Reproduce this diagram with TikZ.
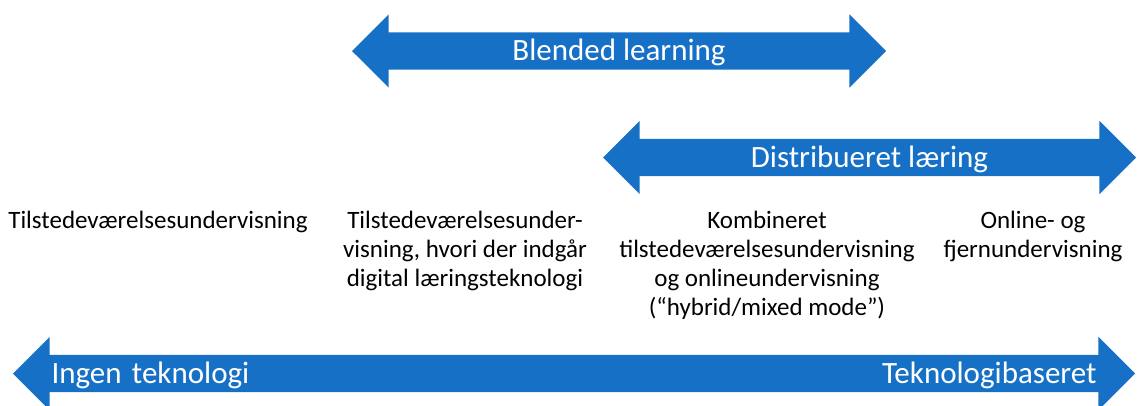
\documentclass[tikz,border=0pt]{standalone}
\usepackage{fontspec}
\setmainfont{Carlito}
\usetikzlibrary{shapes.arrows,positioning}
\definecolor{bandblue}{RGB}{22,113,198}
\tikzset{
  band/.style={double arrow, fill=bandblue, draw=none, double arrow tip angle=90,
               double arrow head extend=18pt, inner xsep=2pt, inner ysep=0pt,
               text height=28pt, text depth=9pt, text=white, font=\fontsize{31}{31}\selectfont},
  stage/.style={align=center, anchor=north, inner sep=0pt, font=\fontsize{25}{29}\selectfont},
}

\begin{document}
\begin{tikzpicture}[x=1pt, y=-1pt]
    \clip (0,0) rectangle (1144,405);
    \node[band, minimum height=534pt] (blend) at (619,51) {Blended learning};
    \node[band, minimum height=533pt] (dist) at (869.5,157.5) {Distribueret læring};
    \node[stage] (pres) at (158,211) {Tilstedeværelsesundervisning};
    \node[stage] (dig) at (465,211) {Tilstedeværelsesunder-\\visning, hvori der indgår\\digital læringsteknologi};
    \node[stage] (hyb) at (767,211) {Kombineret\\tilstedeværelsesundervisning\\og onlineundervisning\\(“hybrid/mixed mode”)};
    \node[stage] (onl) at (1033,211) {Online- og\\fjernundervisning};
    \node[band, minimum height=1122pt, text width=1045pt] (axis) at (574,373.5) {Ingen teknologi\hfill Teknologibaseret};
  \end{tikzpicture}
\end{document}
